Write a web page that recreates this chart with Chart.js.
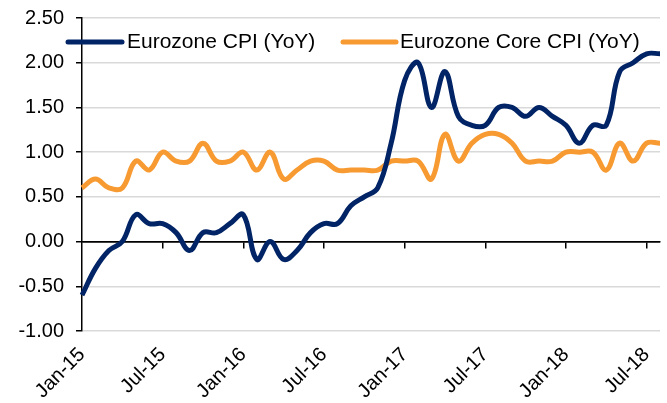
<!DOCTYPE html>
<html>
<head>
<meta charset="utf-8">
<script src="https://cdn.jsdelivr.net/npm/chart.js@4"></script>
<style>
  html, body { margin: 0; padding: 0; background: #fff; }
  #wrap { width: 667px; height: 403px; position: relative; }
</style>
</head>
<body>
<div id="wrap"><canvas id="c" width="667" height="403"></canvas></div>
<script>
// Categories (monthly, Jan-15 .. Aug-18)
const months = [
  "Jan-15","Feb-15","Mar-15","Apr-15","May-15","Jun-15","Jul-15","Aug-15","Sep-15","Oct-15","Nov-15","Dec-15",
  "Jan-16","Feb-16","Mar-16","Apr-16","May-16","Jun-16","Jul-16","Aug-16","Sep-16","Oct-16","Nov-16","Dec-16",
  "Jan-17","Feb-17","Mar-17","Apr-17","May-17","Jun-17","Jul-17","Aug-17","Sep-17","Oct-17","Nov-17","Dec-17",
  "Jan-18","Feb-18","Mar-18","Apr-18","May-18","Jun-18","Jul-18","Aug-18"
];
// Tick labels shown on the x axis
const xTickLabels = ["Jan-15","Jul-15","Jan-16","Jul-16","Jan-17","Jul-17","Jan-18","Jul-18"];

// Series values
const cpiYoY = [
  -0.6,-0.3,-0.1, 0.0, 0.3, 0.2, 0.2, 0.1,-0.1, 0.1, 0.1, 0.2,
   0.3,-0.2, 0.0,-0.2,-0.1, 0.1, 0.2, 0.2, 0.4, 0.5, 0.6, 1.1,
   1.8, 2.0, 1.5, 1.9, 1.4, 1.3, 1.3, 1.5, 1.5, 1.4, 1.5, 1.4,
   1.3, 1.1, 1.3, 1.3, 1.9, 2.0, 2.1, 2.1
];
const coreCpiYoY = [
   0.6, 0.7, 0.6, 0.6, 0.9, 0.8, 1.0, 0.9, 0.9, 1.1, 0.9, 0.9,
   1.0, 0.8, 1.0, 0.7, 0.8, 0.9, 0.9, 0.8, 0.8, 0.8, 0.8, 0.9,
   0.9, 0.9, 0.7, 1.2, 0.9, 1.1, 1.2, 1.2, 1.1, 0.9, 0.9, 0.9,
   1.0, 1.0, 1.0, 0.8, 1.1, 0.9, 1.1, 1.1
];
const seriesNames = ["Eurozone CPI (YoY)", "Eurozone Core CPI (YoY)"];

const FONT = "'Liberation Sans', Arial, sans-serif";
const NAVY = "#012466";
const ORANGE = "#F79A31";

// Legend drawn inside the plot area, like the original
const insideLegend = {
  id: 'insideLegend',
  afterDatasetsDraw(chart) {
    const ctx = chart.ctx;
    const items = [
      { x0: 68, x1: 122, tx: 127 },
      { x0: 343, x1: 396, tx: 400 }
    ];
    const y = 42;
    ctx.save();
    chart.data.datasets.forEach((ds, i) => {
      const it = items[i];
      ctx.strokeStyle = ds.borderColor;
      ctx.lineWidth = 5;
      ctx.lineCap = 'round';
      ctx.beginPath();
      ctx.moveTo(it.x0, y);
      ctx.lineTo(it.x1, y);
      ctx.stroke();
      ctx.fillStyle = '#000';
      ctx.font = "21px " + FONT;
      ctx.textAlign = 'left';
      ctx.textBaseline = 'middle';
      ctx.fillText(ds.label, it.tx, y);
    });
    ctx.restore();
  }
};

new Chart(document.getElementById('c'), {
  type: 'line',
  data: {
    labels: months,
    datasets: [
      { label: seriesNames[0], data: cpiYoY, borderColor: NAVY, backgroundColor: NAVY,
        borderWidth: 5, pointRadius: 0, tension: 0.4, fill: false, xAxisID: 'x', yAxisID: 'y' },
      { label: seriesNames[1], data: coreCpiYoY, borderColor: ORANGE, backgroundColor: ORANGE,
        borderWidth: 5, pointRadius: 0, tension: 0.4, fill: false, xAxisID: 'x', yAxisID: 'y' }
    ]
  },
  options: {
    responsive: false,
    animation: false,
    devicePixelRatio: 1,
    layout: { padding: { left: 0, right: 7, top: 18, bottom: 0 } },
    plugins: { legend: { display: false }, tooltip: { enabled: false } },
    scales: {
      y: {
        min: -1, max: 2.5,
        afterFit(scale) { scale.width = 82; scale.paddingTop = 0; scale.paddingBottom = 0; },
        ticks: {
          stepSize: 0.5,
          color: '#000',
          padding: 12,
          font: { family: FONT, size: 20 },
          callback: (v) => Number(v).toFixed(2)
        },
        grid: {
          color: (c) => (c.tick && c.tick.value === 0) ? '#000' : '#d9d9d9',
          lineWidth: 1.5,
          tickColor: '#000',
          tickLength: 6,
          drawTicks: true
        },
        border: { display: true, color: '#000', width: 1.5 }
      },
      x: {
        type: 'category',
        position: 'bottom',
        afterFit(scale) { scale.height = 72; scale.paddingLeft = 0; scale.paddingRight = 0; },
        grid: { display: false, drawTicks: false },
        border: { display: false },
        ticks: {
          autoSkip: false,
          maxRotation: 45,
          minRotation: 45,
          padding: 12,
          color: '#000',
          font: { family: FONT, size: 20 },
          callback: function (value, index) {
            const lab = this.getLabelForValue(value);
            return xTickLabels.includes(lab) ? lab : null;
          }
        }
      },
      x2: {
        type: 'category',
        position: { y: 0 },
        afterFit(scale) { scale.paddingLeft = 0; scale.paddingRight = 0; },
        ticks: { display: false },
        grid: {
          drawOnChartArea: false,
          drawTicks: true,
          tickLength: 6,
          lineWidth: 1.5,
          tickColor: (c) => {
            const lab = months[c.index];
            return (c.index > 0 && xTickLabels.includes(lab)) ? '#000' : 'rgba(0,0,0,0)';
          }
        },
        border: { display: true, color: '#000', width: 1.5 }
      }
    }
  },
  plugins: [insideLegend]
});
</script>
</body>
</html>
